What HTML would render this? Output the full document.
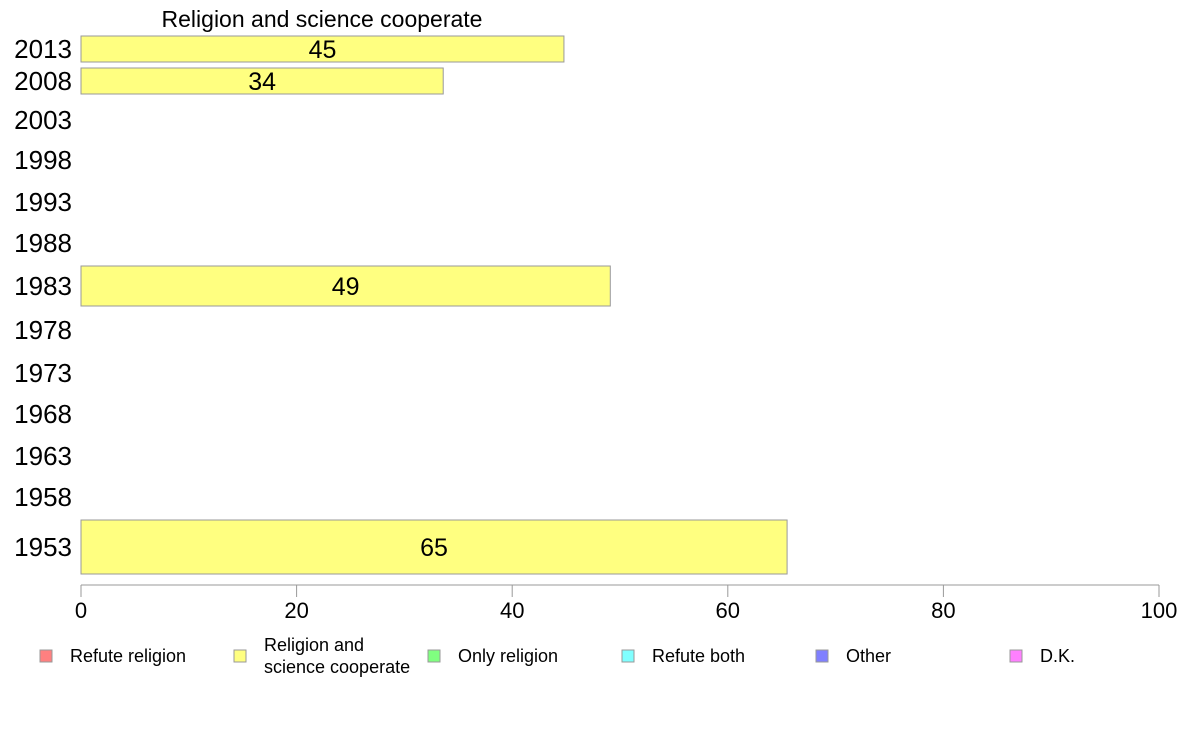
<!DOCTYPE html>
<html><head><meta charset="utf-8"><style>
body{margin:0;background:#fff;}
svg{display:block;font-family:"Liberation Sans",Arial,sans-serif;}
</style></head><body>
<svg id="chart" width="1188" height="736">
<text x="322" y="27" font-size="23" text-anchor="middle">Religion and science cooperate</text>
<g id="rows"></g>
<g id="axis"></g>
<g id="legend"></g>
</svg>
<script>
const years = ["2013","2008","2003","1998","1993","1988","1983","1978","1973","1968","1963","1958","1953"];
const values = [44.8, 33.6, null, null, null, null, 49.1, null, null, null, null, null, 65.5];
const labels = ["45","34","","","","","49","","","","","","65"];
const ticks = [0,20,40,60,80,100];
const legendNames = ["Refute religion","Religion and\nscience cooperate","Only religion","Refute both","Other","D.K."];
const legendColors = ["#ff8080","#ffff80","#80ff80","#80ffff","#8080ff","#ff80ff"];
// layout (not data): row centers and bar heights in px
const rowLayout = [[49,26],[81,26],[120,0],[160,0],[202,0],[243,0],[286,40],[330,0],[373,0],[414,0],[456,0],[497,0],[547,54]];
const NS="http://www.w3.org/2000/svg";
const x0=81, x1=1159;
const xs = v => x0 + (v/100)*(x1-x0);
const rows=document.getElementById('rows');
years.forEach((y,i)=>{
  const [cy,h]=rowLayout[i];
  const t=document.createElementNS(NS,'text');
  
  
  t.setAttribute('x',72);t.setAttribute('y',cy+9);t.setAttribute('font-size',26);t.setAttribute('text-anchor','end');
  t.textContent=y;rows.appendChild(t);
  if(values[i]!=null){
    const r=document.createElementNS(NS,'rect');
    
    
    r.setAttribute('x',xs(0));r.setAttribute('y',cy-h/2);r.setAttribute('width',xs(values[i])-xs(0));r.setAttribute('height',h);
    r.setAttribute('fill','#ffff80');r.setAttribute('stroke','#999');r.setAttribute('stroke-width',1);
    rows.appendChild(r);
    const l=document.createElementNS(NS,'text');
    
    
    l.setAttribute('x',(xs(0)+xs(values[i]))/2);l.setAttribute('y',cy+9);l.setAttribute('font-size',25);l.setAttribute('text-anchor','middle');
    l.textContent=labels[i];rows.appendChild(l);
  }
});
const ax=document.getElementById('axis');
const line=document.createElementNS(NS,'line');


line.setAttribute('x1',x0);line.setAttribute('x2',x1);line.setAttribute('y1',585);line.setAttribute('y2',585);line.setAttribute('stroke','#999');
ax.appendChild(line);
ticks.forEach(v=>{
  const tk=document.createElementNS(NS,'line');
  
  
  tk.setAttribute('x1',xs(v));tk.setAttribute('x2',xs(v));tk.setAttribute('y1',585);tk.setAttribute('y2',597);tk.setAttribute('stroke','#999');
  ax.appendChild(tk);
  const t=document.createElementNS(NS,'text');
  
  
  t.setAttribute('x',xs(v));t.setAttribute('y',618);t.setAttribute('font-size',22);t.setAttribute('text-anchor','middle');
  t.textContent=v;ax.appendChild(t);
});
const lg=document.getElementById('legend');
legendNames.forEach((n,i)=>{
  const lx=40+i*194;
  const r=document.createElementNS(NS,'rect');
  
  
  r.setAttribute('x',lx);r.setAttribute('y',650);r.setAttribute('width',12);r.setAttribute('height',12);
  r.setAttribute('fill',legendColors[i]);r.setAttribute('stroke','#999');
  lg.appendChild(r);
  const t=document.createElementNS(NS,'text');
  
  
  t.setAttribute('font-size',18);
  const parts=n.split('\n');
  parts.forEach((p,j)=>{
    const s=document.createElementNS(NS,'tspan');
    s.setAttribute('x',lx+30);
    s.setAttribute('y',parts.length>1?651+j*22:662);
    s.textContent=p;t.appendChild(s);
  });
  lg.appendChild(t);
});
</script>
</body></html>
